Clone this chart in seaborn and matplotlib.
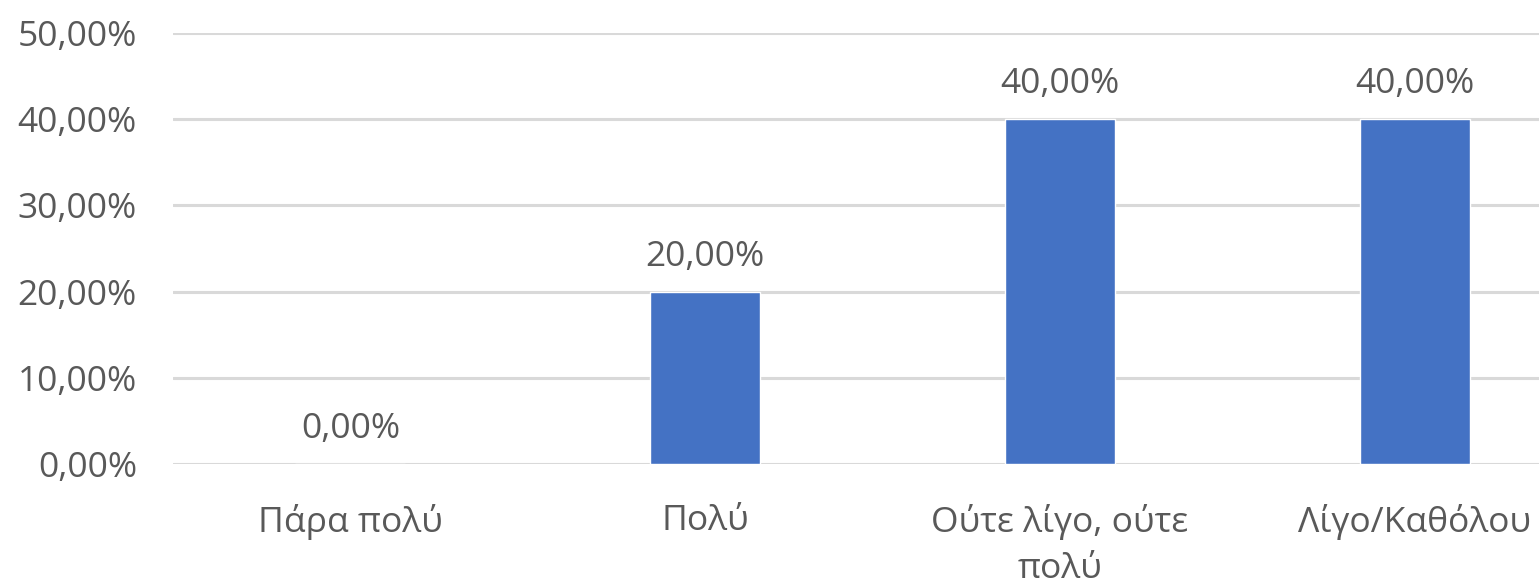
import numpy as np
import pandas as pd
import matplotlib
matplotlib.use("Agg")
import matplotlib.pyplot as plt
import seaborn as sns
from matplotlib.ticker import FuncFormatter

# Data
categories = ["Πάρα πολύ", "Πολύ", "Ούτε λίγο, ούτε\nπολύ", "Λίγο/Καθόλου"]
values = [0.0, 20.0, 40.0, 40.0]

data = pd.DataFrame({"cat": categories, "pct": values})

sns.set_style("white")
plt.rcParams["font.family"] = ["Open Sans", "DejaVu Sans"]
gray = "#595959"
fs = 25.5

fig = plt.figure(figsize=(15.39, 5.86), dpi=100)
ax = fig.add_axes([173 / 1539, 122 / 586, 1419 / 1539, 431 / 586])

sns.barplot(data=data, x="cat", y="pct", color="#4472C4", saturation=1,
            width=0.31, ax=ax)

ax.set_ylim(0, 50)
ax.set_yticks(np.arange(0, 51, 10))
ax.yaxis.set_major_formatter(FuncFormatter(lambda v, p: f"{v:.2f}%".replace(".", ",")))
ax.grid(axis="y", color="#d9d9d9", linewidth=2.2)
ax.set_axisbelow(True)
for s in ax.spines.values():
    s.set_visible(False)

ax.tick_params(axis="both", length=0, labelsize=fs, labelcolor=gray)
ax.tick_params(axis="y", pad=26)
ax.tick_params(axis="x", pad=29)
ax.set_xlabel("")
ax.set_ylabel("")
for lbl in ax.get_xticklabels():
    lbl.set_linespacing(1.45)

for c in ax.containers:
    ax.bar_label(c, labels=[f"{v:.2f}%".replace(".", ",") for v in values],
                 padding=13, fontsize=fs, color=gray)

fig.savefig("out.png", dpi=100)
